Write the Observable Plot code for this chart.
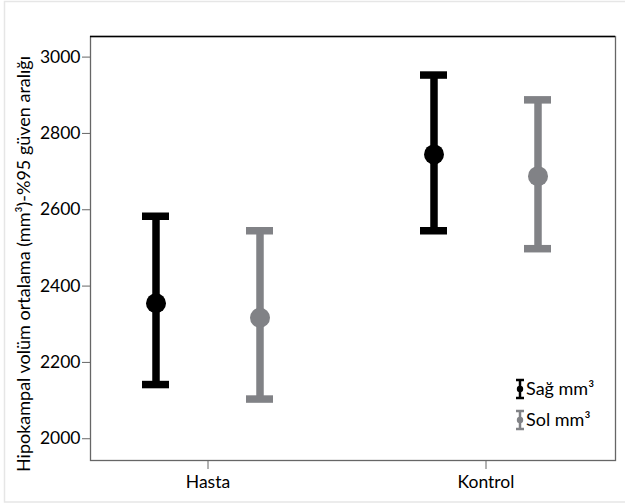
<!DOCTYPE html>
<html>
<head>
<meta charset="utf-8">
<script src="https://cdn.jsdelivr.net/npm/d3@7"></script>
<script src="https://cdn.jsdelivr.net/npm/@observablehq/plot@0.6"></script>
<style>
  html, body { margin: 0; padding: 0; background: #fff; }
  #chart { position: relative; width: 625px; height: 504px; }
</style>
</head>
<body>
<div id="chart"></div>
<script>
// ---- data ----
const groups = ["Hasta", "Kontrol"];
const seriesNames = ["Sağ mm³", "Sol mm³"];
const sagMean = [2355, 2745];
const sagLo   = [2142, 2545];
const sagHi   = [2583, 2953];
const solMean = [2317, 2688];
const solLo   = [2104, 2498];
const solHi   = [2545, 2888];
const yTicks  = [2000, 2200, 2400, 2600, 2800, 3000];
const yLabel  = "Hipokampal volüm ortalama (mm³)-%95 güven aralığı";

const colors = ["#000000", "#818286"];
const FONT = "Lato, 'Liberation Sans', Arial, sans-serif";
const sag = groups.map((g, i) => ({group: g, mean: sagMean[i], lo: sagLo[i], hi: sagHi[i]}));
const sol = groups.map((g, i) => ({group: g, mean: solMean[i], lo: solLo[i], hi: solHi[i]}));

function errMarks(data, color, dx) {
  return [
    Plot.ruleX(data, {x: "group", y1: "lo", y2: "hi", stroke: color, strokeWidth: 7.5, dx}),
    Plot.tickY(data, {x: "group", y: "lo", stroke: color, strokeWidth: 7.5, dx, strokeLinecap: "butt"}),
    Plot.tickY(data, {x: "group", y: "hi", stroke: color, strokeWidth: 7.5, dx, strokeLinecap: "butt"}),
    Plot.dot(data, {x: "group", y: "mean", r: 10, fill: color, dx})
  ];
}

const plot = Plot.plot({
  width: 625,
  height: 504,
  marginLeft: 90,
  marginRight: 10,
  marginTop: 36,
  marginBottom: 44,
  style: {fontFamily: FONT, fontSize: "17px", color: "#000", background: "transparent"},
  x: {type: "band", domain: groups, range: [193.5, 498.5], paddingInner: 0.9029, paddingOuter: 0, label: null},
  y: {domain: [1943, 3054], label: null},
  marks: [
    Plot.frame({stroke: "#666", strokeWidth: 1.3}),
    Plot.axisY(yTicks, {tickSize: 8, tickPadding: 2, stroke: "#666", fontSize: 17.5, tickFormat: "d", label: null}),
    Plot.axisX({tickSize: 9, tickPadding: 6, stroke: "#666", fontSize: 17.5, label: null}),
    ...errMarks(sag, colors[0], -52),
    ...errMarks(sol, colors[1], 52)
  ]
});

document.getElementById("chart").appendChild(plot);

const svg = d3.select(plot);
// outer light border
svg.insert("rect", ":first-child")
  .attr("x", 4.5).attr("y", 1.5).attr("width", 625).attr("height", 500.5)
  .attr("fill", "none").attr("stroke", "#e6e6e6").attr("stroke-width", 1.5);
// top frame line darker
svg.append("line").attr("x1", 90).attr("x2", 615).attr("y1", 36.5).attr("y2", 36.5)
  .attr("stroke", "#000").attr("stroke-width", 1.3);

// y axis title
svg.append("text")
  .attr("transform", "translate(30,264) rotate(-90)")
  .attr("text-anchor", "middle")
  .attr("font-family", FONT)
  .attr("font-size", 18)
  .attr("fill", "#000")
  .text(yLabel);

// legend
const lg = svg.append("g");
seriesNames.forEach((name, i) => {
  const cy = 389 + i * 31;
  const cx = 520;
  const c = colors[i];
  lg.append("line").attr("x1", cx).attr("x2", cx).attr("y1", cy - 9).attr("y2", cy + 9).attr("stroke", c).attr("stroke-width", 2.5);
  lg.append("line").attr("x1", cx - 4).attr("x2", cx + 4).attr("y1", cy - 9).attr("y2", cy - 9).attr("stroke", c).attr("stroke-width", 2.5);
  lg.append("line").attr("x1", cx - 4).attr("x2", cx + 4).attr("y1", cy + 9).attr("y2", cy + 9).attr("stroke", c).attr("stroke-width", 2.5);
  lg.append("circle").attr("cx", cx).attr("cy", cy).attr("r", 3.2).attr("fill", c);
  lg.append("text").attr("x", 526).attr("y", cy + 6)
    .attr("text-anchor", "start").attr("font-family", FONT)
    .attr("font-size", 18).attr("fill", "#000").text(name);
});
</script>
</body>
</html>
